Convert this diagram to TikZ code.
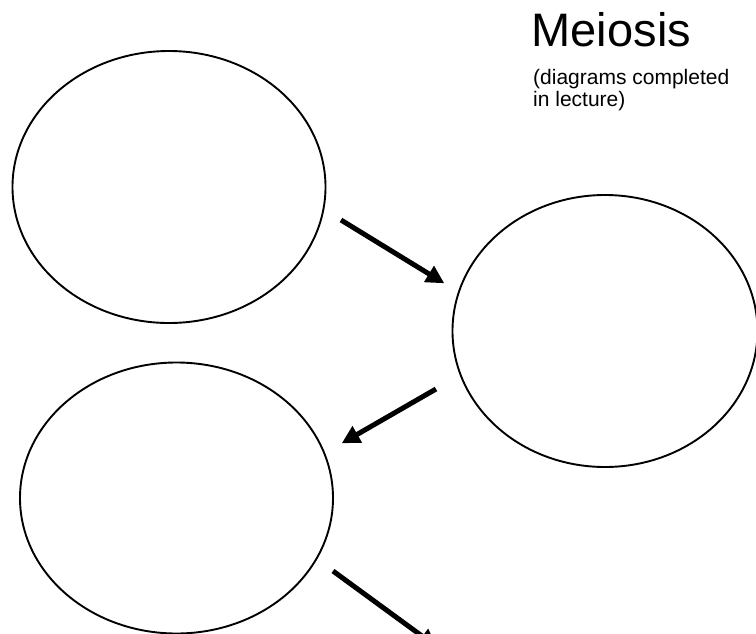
\documentclass[tikz,border=0pt]{standalone}
\usepackage{fontspec}
\setmainfont{Liberation Sans}
\usetikzlibrary{shapes.geometric,arrows.meta}
\begin{document}
\begin{tikzpicture}[x=1pt,y=-1pt,
  cell/.style={draw=black,line width=1.9pt,ellipse,inner sep=0pt,fill=none},
  bigarrow/.style={draw=black,line width=5pt,line cap=butt,-{Triangle[length=18pt,width=18pt]}},
  titletext/.style={anchor=base west,inner sep=0pt,font=\fontsize{47}{50}\selectfont},
  notetext/.style={anchor=base west,inner sep=0pt,font=\fontsize{21}{22}\selectfont}]
\useasboundingbox (0,0) rectangle (756,633);
\fill[white] (0,0) rectangle (756,633);
\node[cell,minimum width=313pt,minimum height=272pt] (e1) at (169,187) {};
\node[cell,minimum width=305pt,minimum height=272pt] (e2) at (605,331) {};
\node[cell,minimum width=313pt,minimum height=271pt] (e3) at (176.5,498) {};
\node[titletext] (title) at (531.5,46) {Meiosis};
\node[notetext] (note1) at (533,84.5) {(diagrams completed};
\node[notetext] (note2) at (533,106.5) {in lecture)};
\coordinate (a1s) at (341,220);
\coordinate (a1e) at (444.3,283.3);
\coordinate (a2s) at (436,389);
\coordinate (a2e) at (341.7,443.3);
\coordinate (a3s) at (333,571);
\coordinate (a3e) at (437,647);
\draw[bigarrow] (a1s) -- (a1e);
\draw[bigarrow] (a2s) -- (a2e);
\draw[bigarrow] (a3s) -- (a3e);
\end{tikzpicture}
\end{document}
